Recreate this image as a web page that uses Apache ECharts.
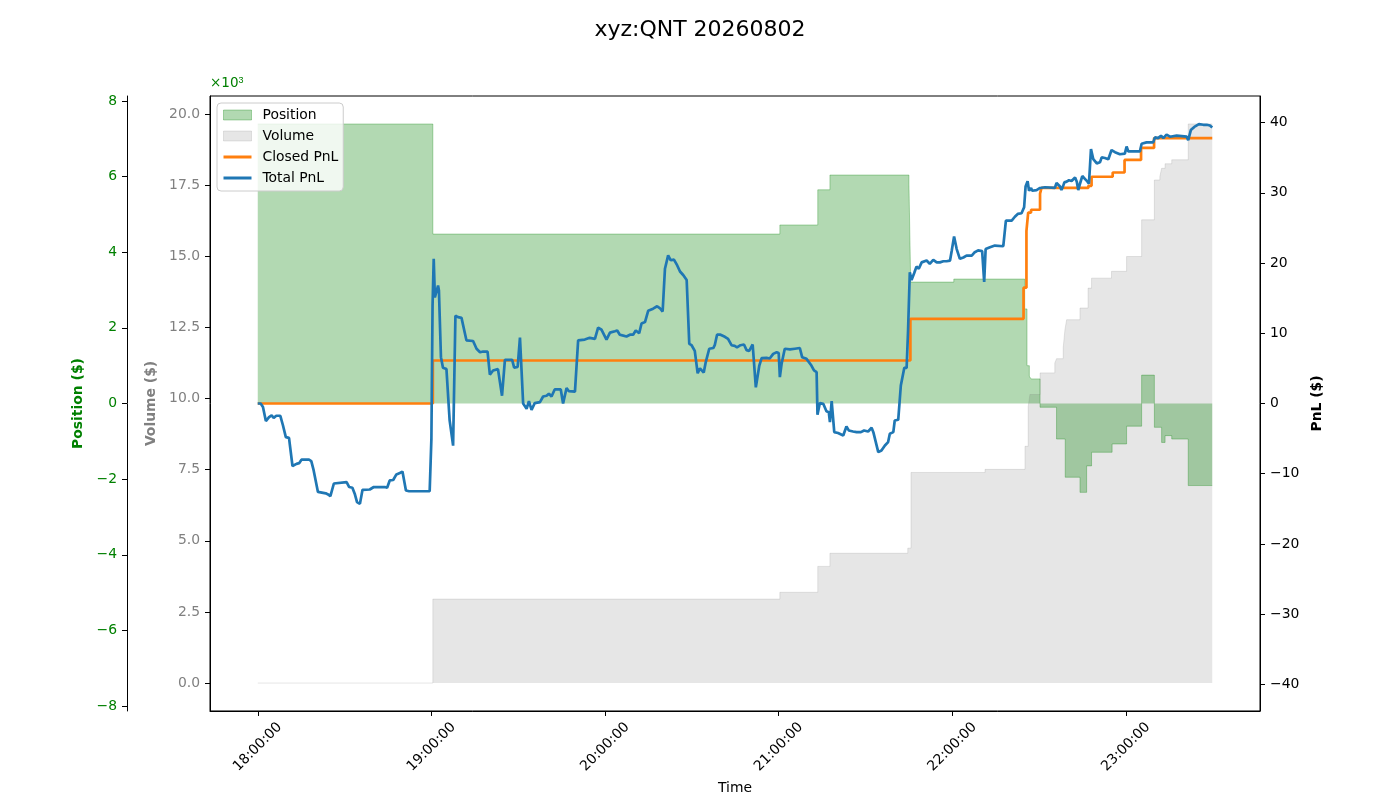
<!DOCTYPE html>
<html>
<head>
<meta charset="utf-8">
<title>xyz:QNT 20260802</title>
<style>
  * { margin: 0; padding: 0; box-sizing: border-box; }
  body { background: #ffffff; width: 1400px; height: 800px; overflow: hidden; }
  #chart { width: 1400px; height: 800px; }
</style>
<script src="https://cdn.jsdelivr.net/npm/echarts@6.0.0/dist/echarts.min.js"></script>
</head>
<body>
<div id="chart"></div>
<script>
// session day and start, times below are minutes after 18:00
const sessionStart = new Date(2026, 7, 2, 18, 0, 0).getTime();

// tick positions
const hourTicks = [0, 60, 120, 180, 240, 300];
const positionTicks = [-8, -6, -4, -2, 0, 2, 4, 6, 8];
const volumeTicks = [0, 2500, 5000, 7500, 10000, 12500, 15000, 17500, 20000];
const pnlTicks = [-40, -30, -20, -10, 0, 10, 20, 30, 40];

// position ($), held until the next change
const positionMin = [0, 60.5, 180.4, 193.5, 197.7, 225.0, 225.6, 240.5, 265.0, 265.8, 266.6, 267.2,
  270.3, 276.0, 279.0, 284.1, 286.4, 288.1, 295.2, 300.2, 305.4, 309.8, 312.3, 313.5, 315.8, 321.5, 329.8];
const positionVal = [7.39, 4.48, 4.72, 5.65, 6.04, 5.8, 3.21, 3.29, 2.5, 1.0, 0.72, 0.65,
  -0.1, -0.94, -1.95, -2.35, -1.65, -1.29, -1.07, -0.6, 0.75, -0.63, -1.03, -0.85, -0.94, -2.17, -2.17];

// cumulative traded volume ($)
const volumeMin = [0, 60.5, 180.4, 193.5, 197.7, 224.6, 225.7, 251.3, 265.1, 266.2, 266.8, 270.3,
  275.4, 276.0, 278.3, 278.9, 279.5, 284.1, 286.9, 288.1, 295.0, 300.2, 305.4, 309.8, 311.7,
  312.3, 313.5, 315.8, 321.5, 329.8];
const volumeVal = [0, 2950, 3190, 4100, 4560, 4740, 7400, 7510, 8320, 9720, 10140, 10900,
  11250, 11400, 11780, 12420, 12770, 13180, 13880, 14230, 14470, 14990, 16280, 17680, 17800,
  18090, 18250, 18390, 19650, 19650];

// closed PnL ($)
const closedMin = [0, 60.5, 225.5, 264.6, 265.6, 266.2, 267.2, 270.3, 270.8, 287.0, 288.1,
  295.4, 299.5, 305.2, 309.7, 329.8];
const closedPnl = [0, 6.12, 12.06, 16.5, 24.6, 27.2, 27.6, 29.9, 30.7, 31.0, 32.3,
  32.9, 34.7, 36.4, 37.8, 37.8];

// total PnL ($)
const totalMin = [0, 1.0, 1.8, 2.8, 3.9, 4.8, 5.5, 6.4, 7.8, 8.7, 9.7, 10.8, 12.0, 13.4, 14.3, 15.1,
  17.7, 18.5, 19.3, 20.8, 23.5, 24.3, 25.1, 26.3, 30.7, 31.6, 32.7, 33.5, 34.3, 35.3, 36.2, 38.7,
  40.1, 43.9, 44.7, 45.6, 46.8, 47.9, 49.1, 50.0, 51.2, 52.3, 59.4, 60.0, 60.4, 60.8, 61.2, 61.8,
  62.3, 62.6, 63.3, 64.0, 65.2, 66.3, 67.5, 68.3, 69.2, 70.4, 72.1, 74.4, 75.6, 76.8, 77.9, 79.4,
  80.2, 81.3, 83.0, 84.4, 85.4, 87.9, 88.6, 89.8, 90.6, 91.7, 92.9, 93.7, 94.6, 95.7, 97.5, 98.6,
  99.8, 100.6, 101.5, 102.6, 104.7, 105.5, 106.7, 107.5, 109.6, 110.7, 113.0, 114.7, 116.5, 117.6,
  118.8, 120.5, 121.7, 123.4, 124.2, 125.1, 126.0, 127.4, 128.6, 129.7, 130.6, 131.8, 132.6, 133.8,
  134.9, 136.6, 138.0, 138.9, 139.9, 140.7, 141.8, 142.7, 143.8, 144.9, 145.9, 147.0, 148.2, 149.1,
  149.9, 151.0, 152.0, 152.8, 153.3, 154.1, 154.8, 156.0, 157.4, 157.9, 158.7, 159.9, 161.4, 162.5,
  163.7, 164.8, 165.6, 166.8, 168.0, 168.9, 169.8, 171.0, 172.1, 173.3, 174.1, 175.8, 176.9, 178.1,
  179.3, 180.0, 180.4, 181.0, 182.1, 183.9, 185.6, 187.3, 188.1, 189.6, 190.2, 191.3, 192.2, 193.1,
  193.4, 194.2, 195.4, 196.5, 197.3, 197.7, 198.3, 199.2, 200.5, 202.3, 203.4, 204.2, 205.7, 206.9,
  208.4, 209.5, 210.9, 212.1, 212.7, 214.4, 215.5, 216.7, 217.8, 218.4, 219.6, 220.1, 221.3, 222.2,
  223.4, 224.2, 224.7, 225.3, 225.9, 226.8, 227.6, 228.4, 229.4, 231.1, 232.2, 233.4, 234.6, 235.7,
  236.9, 238.0, 239.2, 239.8, 240.6, 241.5, 242.6, 243.8, 244.9, 246.7, 247.6, 248.9, 250.3, 251.0,
  251.5, 253.0, 254.7, 257.6, 258.5, 260.5, 261.6, 262.6, 263.9, 264.8, 265.3, 266.0, 266.5, 267.2,
  267.6, 269.1, 270.3, 272.0, 275.4, 276.0, 277.2, 277.7, 278.3, 278.7, 279.5, 280.3, 281.2, 282.4,
  283.0, 283.5, 284.1, 284.9, 285.8, 286.7, 287.2, 287.9, 288.7, 289.9, 291.0, 291.6, 292.7, 293.9,
  295.0, 296.2, 297.9, 299.6, 300.2, 300.8, 301.9, 304.8, 305.4, 307.1, 309.4, 310.0, 311.1, 312.1,
  312.9, 314.0, 315.2, 315.8, 317.5, 321.0, 321.5, 322.4, 323.6, 325.2, 326.7, 327.9, 329.0, 329.8];
const totalPnl = [0, 0, -0.5, -2.5, -1.95, -1.7, -2.05, -1.75, -1.75, -3.1, -4.8, -4.9, -8.9, -8.6, -8.5, -8.0,
  -8.0, -8.2, -9.5, -12.6, -12.8, -12.95, -13.2, -11.4, -11.2, -11.9, -12.0, -12.85, -14.05, -14.3, -12.3, -12.25,
  -11.9, -11.9, -12.0, -10.96, -10.9, -10.1, -9.9, -9.7, -12.4, -12.5, -12.5, -5.0, 14.0, 20.6, 15.1, 14.9,
  16.8, 16.1, 6.6, 5.1, 4.9, -2.4, -6.0, 12.5, 12.3, 12.2, 9.0, 8.9, 7.8, 7.3, 7.4, 7.4,
  4.1, 4.7, 4.9, 1.1, 6.2, 6.2, 5.1, 5.2, 9.4, 0.0, -0.75, 0.33, -0.9, 0.05, 0.2, 1.0,
  1.1, 1.4, 1.0, 2.0, 2.0, 0.0, 2.2, 1.75, 1.7, 9.0, 9.1, 9.35, 9.2, 10.8,
  10.5, 9.1, 10.1, 10.3, 10.4, 9.8, 9.7, 9.55, 9.8, 9.8, 10.4, 10.0, 11.4, 11.6,
  13.2, 13.5, 13.85, 13.6, 13.1, 19.2, 21.1, 20.4, 20.5, 19.7, 18.8, 18.3, 17.6, 8.5,
  8.3, 7.5, 4.3, 5.0, 4.9, 4.4, 5.9, 7.8, 7.9, 8.3, 9.8, 9.8, 9.5, 9.2,
  8.3, 8.2, 8.0, 8.3, 8.4, 7.6, 7.5, 8.4, 2.3, 5.4, 6.45, 6.5, 6.4, 7.07,
  7.3, 7.2, 3.75, 5.65, 7.8, 7.7, 7.8, 7.9, 6.6, 6.36, 6.2, 5.4, 4.7, 4.46,
  -1.6, 0.05, -0.05, -1.1, -1.24, -2.66, 0.33, -4.08, -4.2, -4.55, -3.27, -3.84, -3.99, -4.08,
  -4.08, -3.84, -3.99, -3.46, -4.08, -6.93, -6.7, -5.98, -5.5, -4.3, -4.08, -2.42, -2.32, 2.56,
  5.08, 5.08, 10.4, 18.7, 17.6, 18.55, 19.5, 19.2, 20.1, 20.36, 19.9, 20.45, 20.1, 20.1,
  20.26, 20.26, 20.36, 21.8, 23.8, 22.0, 20.6, 20.8, 21.07, 21.07, 21.5, 21.8, 21.7, 17.3,
  22.0, 22.25, 22.5, 22.4, 26.05, 26.05, 26.6, 27.0, 27.1, 27.95, 30.9, 31.65, 30.3, 30.7,
  30.3, 30.4, 30.7, 30.8, 30.7, 31.4, 30.9, 30.4, 31.0, 31.5, 31.6, 31.8, 31.7, 32.2,
  31.6, 30.4, 31.3, 32.4, 32.0, 31.6, 31.3, 36.25, 34.8, 34.2, 34.35, 35.06, 34.97, 34.8,
  36.1, 35.8, 35.5, 35.6, 36.6, 35.9, 35.9, 35.9, 37.0, 37.2, 37.2, 37.9, 37.8, 38.15,
  37.8, 38.3, 38.0, 38.15, 38.15, 38.0, 37.5, 38.95, 39.4, 39.8, 39.7, 39.7, 39.6, 39.3];

const FONT = 'DejaVu Sans';
const toTs = (m) => sessionStart + Math.round(m * 60000);
const pairs = (mins, vals) => mins.map((m, i) => [toTs(m), vals[i]]);
const pad2 = (n) => String(n).padStart(2, '0');
const fmtTime = (v) => {
  const d = new Date(v);
  return pad2(d.getHours()) + ':' + pad2(d.getMinutes()) + ':' + pad2(d.getSeconds());
};
const fmtSigned = (v) => (v < 0 ? '\u2212' : '') + Math.abs(v);

const chart = echarts.init(document.getElementById('chart'));

const option = {
  animation: false,
  backgroundColor: '#ffffff',
  textStyle: { fontFamily: FONT },
  title: {
    text: 'xyz:QNT 20260802',
    left: 'center',
    top: 14,
    textStyle: { fontFamily: FONT, fontSize: 22, fontWeight: 'normal', color: '#000' }
  },
  graphic: [{
    type: 'text',
    left: 210,
    top: 76,
    style: {
      text: '\u00d710{sup|3}',
      fill: 'green',
      font: '13.5px "DejaVu Sans"',
      rich: { sup: { fontSize: 9, verticalAlign: 'top', fill: 'green', padding: [0, 0, 6, 0] } }
    }
  }],
  legend: {
    left: 217,
    top: 103,
    orient: 'vertical',
    itemWidth: 28,
    itemHeight: 10,
    itemGap: 7,
    padding: [5, 5, 6, 6],
    backgroundColor: 'rgba(255,255,255,0.8)',
    borderColor: '#cccccc',
    borderWidth: 1,
    borderRadius: 4,
    textStyle: { fontFamily: FONT, fontSize: 13.9, color: '#000', lineHeight: 14, padding: [0, 0, 0, 6] },
    data: [
      { name: 'Position', icon: 'rect', itemStyle: { color: 'rgba(0,128,0,0.3)', borderColor: 'rgba(0,128,0,0.3)', borderWidth: 1 } },
      { name: 'Volume', icon: 'rect', itemStyle: { color: 'rgba(128,128,128,0.2)', borderColor: 'rgba(128,128,128,0.2)', borderWidth: 1 } },
      { name: 'Closed PnL', icon: 'path://M0,0 L28,0 L28,3 L0,3 Z', itemStyle: { color: '#ff7f0e' } },
      { name: 'Total PnL', icon: 'path://M0,0 L28,0 L28,3 L0,3 Z', itemStyle: { color: '#1f77b4' } }
    ]
  },
  grid: {
    left: 210, right: 140, top: 96, bottom: 88,
    show: true, borderColor: '#000', borderWidth: 1, backgroundColor: 'transparent'
  },
  xAxis: {
    type: 'value',
    min: toTs(-16.5),
    max: toTs(346.3),
    name: 'Time',
    nameLocation: 'middle',
    nameGap: 68,
    nameTextStyle: { fontFamily: FONT, fontSize: 13.9, color: '#000' },
    axisLine: { show: true, onZero: false, lineStyle: { color: '#000', width: 1 } },
    axisTick: { show: true, length: 5, inside: false, lineStyle: { color: '#000' }, customValues: hourTicks.map(toTs) },
    axisLabel: {
      customValues: hourTicks.map(toTs),
      rotate: 45,
      align: 'center',
      verticalAlign: 'middle',
      margin: 36,
      fontFamily: FONT,
      fontSize: 13.9,
      color: '#000',
      formatter: fmtTime
    },
    splitLine: { show: false }
  },
  yAxis: [
    {
      type: 'value',
      position: 'left',
      offset: 83,
      min: -8.13,
      max: 8.13,
      name: 'Position ($)',
      nameLocation: 'middle',
      nameRotate: 90,
      nameGap: 38,
      nameTextStyle: { fontFamily: FONT, fontSize: 13.9, fontWeight: 'bold', color: 'green' },
      axisLine: { show: true, onZero: false, lineStyle: { color: '#000', width: 1 } },
      axisTick: { show: true, length: 5, lineStyle: { color: '#000' }, customValues: positionTicks },
      axisLabel: { customValues: positionTicks, margin: 10, fontFamily: FONT, fontSize: 13.9, color: 'green', formatter: fmtSigned },
      splitLine: { show: false }
    },
    {
      type: 'value',
      position: 'left',
      offset: 0,
      min: -982,
      max: 20632,
      name: 'Volume ($)',
      nameLocation: 'middle',
      nameRotate: 90,
      nameGap: 48,
      nameTextStyle: { fontFamily: FONT, fontSize: 13.9, fontWeight: 'bold', color: 'gray' },
      axisLine: { show: true, onZero: false, lineStyle: { color: '#000', width: 1 } },
      axisTick: { show: true, length: 5, lineStyle: { color: '#000' }, customValues: volumeTicks },
      axisLabel: { customValues: volumeTicks, margin: 10, fontFamily: FONT, fontSize: 13.9, color: 'gray', formatter: (v) => (v / 1000).toFixed(1) },
      splitLine: { show: false }
    },
    {
      type: 'value',
      position: 'right',
      min: -43.8,
      max: 43.8,
      name: 'PnL ($)',
      nameLocation: 'middle',
      nameRotate: 90,
      nameGap: 44,
      nameTextStyle: { fontFamily: FONT, fontSize: 13.9, fontWeight: 'bold', color: '#000' },
      axisLine: { show: true, onZero: false, lineStyle: { color: '#000', width: 1 } },
      axisTick: { show: true, length: 5, lineStyle: { color: '#000' }, customValues: pnlTicks },
      axisLabel: { customValues: pnlTicks, margin: 10, fontFamily: FONT, fontSize: 13.9, color: '#000', formatter: fmtSigned },
      splitLine: { show: false }
    }
  ],
  series: [
    {
      name: 'Volume',
      type: 'line',
      yAxisIndex: 1,
      step: 'end',
      symbol: 'none',
      data: pairs(volumeMin, volumeVal),
      itemStyle: { color: 'rgba(128,128,128,0.2)' },
      lineStyle: { color: 'rgba(128,128,128,0.2)', width: 1 },
      areaStyle: { color: 'rgba(128,128,128,0.2)', opacity: 1, origin: 'auto' }
    },
    {
      name: 'Position',
      type: 'line',
      yAxisIndex: 0,
      step: 'end',
      symbol: 'none',
      data: pairs(positionMin, positionVal),
      itemStyle: { color: 'rgba(0,128,0,0.3)' },
      lineStyle: { color: 'rgba(0,128,0,0.3)', width: 1 },
      areaStyle: { color: 'rgba(0,128,0,0.3)', opacity: 1, origin: 'auto' }
    },
    {
      name: 'Closed PnL',
      type: 'line',
      yAxisIndex: 2,
      step: 'end',
      symbol: 'none',
      data: pairs(closedMin, closedPnl),
      itemStyle: { color: '#ff7f0e' },
      lineStyle: { color: '#ff7f0e', width: 2.7 }
    },
    {
      name: 'Total PnL',
      type: 'line',
      yAxisIndex: 2,
      symbol: 'none',
      data: pairs(totalMin, totalPnl),
      itemStyle: { color: '#1f77b4' },
      lineStyle: { color: '#1f77b4', width: 2.7 }
    }
  ]
};

chart.setOption(option);
</script>
</body>
</html>
